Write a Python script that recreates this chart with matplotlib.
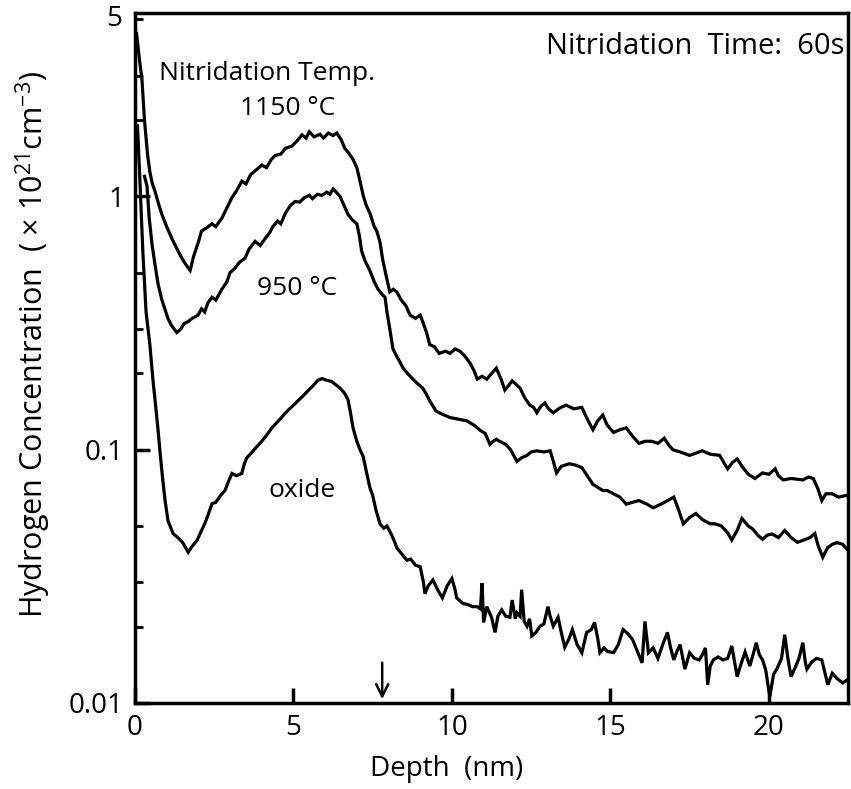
import matplotlib
matplotlib.use('Agg')
import matplotlib.pyplot as plt
from matplotlib.ticker import LogLocator, NullFormatter, FixedLocator, FixedFormatter

plt.rcParams['font.family'] = ['Open Sans', 'DejaVu Sans']
plt.rcParams['mathtext.fontset'] = 'custom'
plt.rcParams['mathtext.rm'] = 'Open Sans'
plt.rcParams['mathtext.it'] = 'Open Sans'

# Data: depth in nm, H concentration in 1e21 cm^-3
depth_1150 = [0.05, 0.15, 0.22, 0.30, 0.40, 0.47, 0.55, 0.63, 0.75, 0.85, 1.0, 1.17, 1.3, 1.48, 1.6, 1.74,
              1.85, 2.0, 2.1, 2.25, 2.43, 2.55, 2.74, 2.9, 3.06, 3.2, 3.37, 3.5, 3.65, 3.88, 4.0, 4.15,
              4.3, 4.42, 4.6, 4.75, 4.95, 5.1, 5.27, 5.4, 5.5, 5.65, 5.84, 5.95, 6.1, 6.25, 6.37, 6.5,
              6.62, 6.75, 6.88, 7.0, 7.1, 7.2, 7.3, 7.41, 7.55, 7.63, 7.73, 7.82, 7.95, 8.04, 8.15, 8.26,
              8.4, 8.55, 8.68, 8.85, 9.0, 9.08, 9.2, 9.3, 9.45, 9.6, 9.8, 9.94, 10.1, 10.25, 10.4, 10.57,
              10.7, 10.8, 10.95, 11.1, 11.25, 11.4, 11.55, 11.67, 11.8, 11.9, 12.05, 12.15, 12.3, 12.46,
              12.58, 12.68, 12.8, 12.93, 13.05, 13.2, 13.4, 13.6, 13.85, 14.1, 14.2, 14.3, 14.45, 14.6,
              14.76, 14.9, 15.1, 15.3, 15.5, 15.7, 15.9, 16.1, 16.3, 16.5, 16.7, 16.85, 16.97, 17.2,
              17.5, 17.7, 17.9, 18.15, 18.45, 18.6, 18.7, 18.85, 19.0, 19.15, 19.35, 19.56, 19.8, 20.0,
              20.2, 20.3, 20.45, 20.7, 21.07, 21.25, 21.4, 21.55, 21.67, 21.8, 22.0, 22.2, 22.45]
conc_1150 = [4.4, 3.4, 2.9, 2.0, 1.45, 1.25, 1.12, 1.05, 0.93, 0.85, 0.76, 0.68, 0.63, 0.57, 0.54, 0.51,
             0.58, 0.66, 0.73, 0.75, 0.78, 0.76, 0.82, 0.90, 0.99, 1.05, 1.15, 1.12, 1.22, 1.29, 1.33, 1.30,
             1.40, 1.45, 1.47, 1.55, 1.58, 1.65, 1.75, 1.70, 1.80, 1.72, 1.76, 1.70, 1.78, 1.74, 1.78, 1.68,
             1.55, 1.48, 1.40, 1.30, 1.15, 1.01, 0.92, 0.86, 0.76, 0.73, 0.66, 0.56, 0.47, 0.42, 0.43, 0.42,
             0.39, 0.37, 0.34, 0.33, 0.34, 0.32, 0.29, 0.26, 0.255, 0.24, 0.245, 0.24, 0.25, 0.245, 0.235, 0.22,
             0.205, 0.19, 0.195, 0.19, 0.20, 0.21, 0.19, 0.172, 0.18, 0.187, 0.18, 0.175, 0.16, 0.15,
             0.147, 0.14, 0.148, 0.153, 0.145, 0.14, 0.146, 0.15, 0.145, 0.147, 0.138, 0.13, 0.12, 0.13,
             0.137, 0.125, 0.117, 0.12, 0.122, 0.113, 0.106, 0.108, 0.108, 0.106, 0.111, 0.104, 0.10, 0.098,
             0.095, 0.097, 0.099, 0.096, 0.095, 0.088, 0.084, 0.089, 0.092, 0.086, 0.080, 0.077, 0.081, 0.080,
             0.084, 0.079, 0.076, 0.077, 0.076, 0.078, 0.077, 0.070, 0.063, 0.067, 0.067, 0.065, 0.066]

depth_950 = [0.30, 0.38, 0.45, 0.54, 0.63, 0.73, 0.85, 1.04, 1.15, 1.32, 1.45, 1.55, 1.67, 1.8, 1.99, 2.1,
             2.2, 2.3, 2.43, 2.55, 2.74, 2.9, 3.0, 3.15, 3.3, 3.47, 3.6, 3.79, 3.95, 4.1, 4.25, 4.35,
             4.5, 4.6, 4.75, 4.9, 5.05, 5.2, 5.35, 5.5, 5.6, 5.75, 5.9, 6.05, 6.15, 6.25, 6.35, 6.47,
             6.6, 6.72, 6.85, 7.0, 7.08, 7.15, 7.25, 7.41, 7.55, 7.67, 7.8, 7.89, 7.95, 8.04, 8.14, 8.25,
             8.36, 8.46, 8.6, 8.77, 8.9, 9.08, 9.2, 9.3, 9.5, 9.7, 9.94, 10.2, 10.47, 10.7, 10.9, 11.05,
             11.2, 11.3, 11.4, 11.5, 11.7, 11.85, 12.05, 12.2, 12.37, 12.5, 12.68, 12.9, 13.1, 13.2, 13.3,
             13.45, 13.7, 13.9, 14.1, 14.3, 14.45, 14.6, 14.76, 14.9, 15.1, 15.3, 15.5, 15.7, 15.9, 16.15,
             16.35, 16.6, 16.8, 17.0, 17.15, 17.3, 17.5, 17.7, 17.9, 18.15, 18.3, 18.5, 18.7, 18.83, 19.0,
             19.15, 19.35, 19.5, 19.65, 19.8, 19.95, 20.1, 20.3, 20.5, 20.7, 20.9, 21.1, 21.3, 21.45, 21.55,
             21.7, 21.85, 22.0, 22.15, 22.33, 22.5]
conc_950 = [1.2, 1.1, 0.82, 0.645, 0.54, 0.45, 0.39, 0.33, 0.31, 0.29, 0.30, 0.315, 0.32, 0.33, 0.34, 0.36,
            0.35, 0.38, 0.40, 0.39, 0.43, 0.46, 0.50, 0.52, 0.55, 0.57, 0.62, 0.665, 0.64, 0.68, 0.72, 0.76,
            0.80, 0.78, 0.86, 0.92, 0.955, 0.95, 0.99, 1.01, 0.98, 1.02, 1.01, 1.04, 1.02, 1.07, 1.04, 1.0,
            0.92, 0.85, 0.81, 0.78, 0.70, 0.61, 0.56, 0.51, 0.46, 0.43, 0.41, 0.40, 0.35, 0.30, 0.25, 0.235,
            0.222, 0.21, 0.20, 0.19, 0.183, 0.175, 0.165, 0.156, 0.142, 0.138, 0.134, 0.132, 0.13, 0.125, 0.119, 0.116,
            0.105, 0.108, 0.11, 0.108, 0.105, 0.1, 0.09, 0.093, 0.095, 0.098, 0.099, 0.098, 0.099, 0.09, 0.081,
            0.086, 0.088, 0.087, 0.085, 0.078, 0.073, 0.071, 0.069, 0.069, 0.067, 0.065, 0.061, 0.062, 0.063, 0.061,
            0.059, 0.061, 0.063, 0.065, 0.058, 0.051, 0.054, 0.056, 0.053, 0.051, 0.051, 0.050, 0.047, 0.044, 0.048,
            0.0535, 0.050, 0.0485, 0.046, 0.0443, 0.046, 0.0465, 0.045, 0.048, 0.045, 0.0431, 0.044, 0.045, 0.0467, 0.042,
            0.0376, 0.041, 0.0423, 0.043, 0.0423, 0.040]

depth_oxide = [0.08, 0.15, 0.25, 0.35, 0.47, 0.57, 0.65, 0.73, 0.8, 0.88, 0.95, 1.04, 1.2, 1.35, 1.5, 1.6,
               1.68, 1.8, 1.96, 2.1, 2.2, 2.3, 2.43, 2.55, 2.7, 2.84, 2.95, 3.06, 3.2, 3.37, 3.45, 3.53,
               3.7, 3.85, 4.0, 4.15, 4.32, 4.45, 4.6, 4.73, 4.9, 5.05, 5.14, 5.3, 5.46, 5.6, 5.77, 5.9,
               6.05, 6.2, 6.35, 6.47, 6.6, 6.72, 6.8, 6.88, 7.0, 7.1, 7.2, 7.3, 7.41, 7.5, 7.6, 7.73,
               7.85, 7.95, 8.1, 8.2, 8.26, 8.4, 8.58, 8.7, 8.85, 9.0, 9.1, 9.15, 9.25, 9.4, 9.55, 9.7,
               9.85, 10.0, 10.1, 10.15, 10.35, 10.5, 10.65, 10.8, 10.9, 10.95, 11.0, 11.1, 11.25, 11.36, 11.45, 11.57,
               11.7, 11.83, 11.9, 12.0, 12.05, 12.15, 12.2, 12.28, 12.37, 12.45, 12.52, 12.65, 12.78, 12.9, 13.03, 13.1,
               13.2, 13.35, 13.45, 13.56, 13.7, 13.8, 13.95, 14.1, 14.25, 14.4, 14.5, 14.6, 14.67, 14.8, 14.9, 15.1,
               15.25, 15.4, 15.55, 15.7, 15.85, 16.0, 16.09, 16.2, 16.35, 16.5, 16.65, 16.8, 16.9, 17.0, 17.1, 17.2,
               17.35, 17.5, 17.65, 17.8, 17.9, 18.0, 18.07, 18.15, 18.25, 18.4, 18.55, 18.7, 18.83, 18.92, 19.0, 19.1,
               19.25, 19.4, 19.5, 19.6, 19.7, 19.8, 19.9, 20.03, 20.15, 20.25, 20.4, 20.5, 20.6, 20.7, 20.85, 20.95,
               21.07, 21.15, 21.2, 21.35, 21.5, 21.67, 21.78, 21.86, 22.0, 22.15, 22.33, 22.5]
conc_oxide = [1.9, 1.2, 0.6, 0.35, 0.26, 0.187, 0.15, 0.119, 0.095, 0.0755, 0.063, 0.0526, 0.0467, 0.045, 0.0431, 0.041,
              0.0394, 0.0415, 0.0439, 0.048, 0.051, 0.055, 0.0612, 0.062, 0.066, 0.069, 0.075, 0.0806, 0.079, 0.0806, 0.088, 0.093,
              0.098, 0.103, 0.108, 0.114, 0.122, 0.127, 0.133, 0.139, 0.146, 0.152, 0.156, 0.163, 0.171, 0.178, 0.188, 0.191,
              0.188, 0.186, 0.18, 0.175, 0.168, 0.158, 0.14, 0.122, 0.108, 0.10, 0.094, 0.082, 0.071, 0.066, 0.058, 0.051,
              0.049, 0.050, 0.046, 0.043, 0.041, 0.039, 0.0366, 0.037, 0.035, 0.0345, 0.030, 0.027, 0.029, 0.0306, 0.028, 0.026,
              0.029, 0.031, 0.028, 0.026, 0.0247, 0.0245, 0.024, 0.024, 0.0235, 0.0297, 0.0208, 0.024, 0.0218, 0.019, 0.022, 0.0233,
              0.022, 0.0218, 0.0255, 0.0215, 0.0227, 0.022, 0.028, 0.021, 0.0201, 0.0215, 0.0184, 0.019, 0.0201, 0.0205, 0.024, 0.022,
              0.0201, 0.0218, 0.019, 0.0166, 0.018, 0.0195, 0.017, 0.0158, 0.019, 0.0195, 0.0208, 0.018, 0.0158, 0.0165, 0.016, 0.0158,
              0.017, 0.0195, 0.0188, 0.0178, 0.016, 0.0144, 0.021, 0.0158, 0.0165, 0.015, 0.017, 0.019, 0.0165, 0.0148, 0.016, 0.017,
              0.0136, 0.0158, 0.015, 0.0148, 0.0155, 0.0165, 0.0118, 0.014, 0.0148, 0.0152, 0.0148, 0.015, 0.0168, 0.0145, 0.0127, 0.014,
              0.0159, 0.014, 0.0155, 0.0173, 0.0155, 0.0148, 0.0135, 0.0106, 0.013, 0.0136, 0.015, 0.0186, 0.015, 0.0127, 0.014, 0.015,
              0.0173, 0.0145, 0.0136, 0.0145, 0.015, 0.0148, 0.013, 0.0118, 0.0131, 0.0125, 0.012, 0.0124]

y_major = [0.01, 0.1, 1]
y_major_labels = ['0.01', '0.1', '1']
y_top_label = 5
x_major = [0, 5, 10, 15, 20]
arrow_depth = 7.8

fig = plt.figure(figsize=(8.51, 7.89), dpi=100)
ax = fig.add_axes([0.1586, 0.109, 0.838, 0.8745])

for d, c in [(depth_1150, conc_1150), (depth_950, conc_950), (depth_oxide, conc_oxide)]:
    ax.plot(d, c, color='black', lw=2.3, solid_joinstyle='miter')

ax.set_yscale('log')
ax.set_xlim(0, 22.5)
ax.set_ylim(0.01, 5.3)

ax.yaxis.set_major_locator(FixedLocator(y_major))
ax.yaxis.set_major_formatter(FixedFormatter(y_major_labels))
ax.yaxis.set_minor_locator(LogLocator(base=10, subs=[2, 3, 5]))
ax.yaxis.set_minor_formatter(NullFormatter())
ax.set_xticks(x_major)
ax.set_xticklabels([str(v) for v in x_major])

ax.tick_params(axis='both', which='major', direction='in', length=11, width=2.5,
               labelsize=20, pad=8, top=False, right=False)
ax.tick_params(axis='y', which='minor', direction='in', length=6, width=2, right=False)
for s in ax.spines.values():
    s.set_linewidth(2.5)

# "5" at the top of the y axis has a label but no tick mark
ax.text(-0.018, y_top_label, '5', transform=ax.get_yaxis_transform(), ha='right', va='center', fontsize=20)

ax.set_xlabel('Depth  (nm)', fontsize=20, labelpad=14)
ax.xaxis.set_label_coords(0.4376, -0.075)
ax.set_ylabel(r'Hydrogen Concentration  ( $\times$ 10$^{21}$cm$^{-3}$)', fontsize=22, labelpad=10)
ax.yaxis.set_label_coords(-0.115, 0.52)

ax.text(0.995, 0.972, 'Nitridation  Time:  60s', transform=ax.transAxes, ha='right', va='top', fontsize=21)
ax.text(0.75, 3.05, 'Nitridation Temp.', ha='left', va='center', fontsize=19)
ax.text(3.3, 2.22, '1150 °C', ha='left', va='center', fontsize=19)
ax.text(3.85, 0.434, '950 °C', ha='left', va='center', fontsize=19)
ax.text(4.2, 0.069, 'oxide', ha='left', va='center', fontsize=19)

ax.annotate('', xy=(arrow_depth, 0.0101), xytext=(arrow_depth, 0.0148),
            arrowprops=dict(arrowstyle='->', lw=1.8, color='black', mutation_scale=22))

fig.savefig('out.png', dpi=100)
